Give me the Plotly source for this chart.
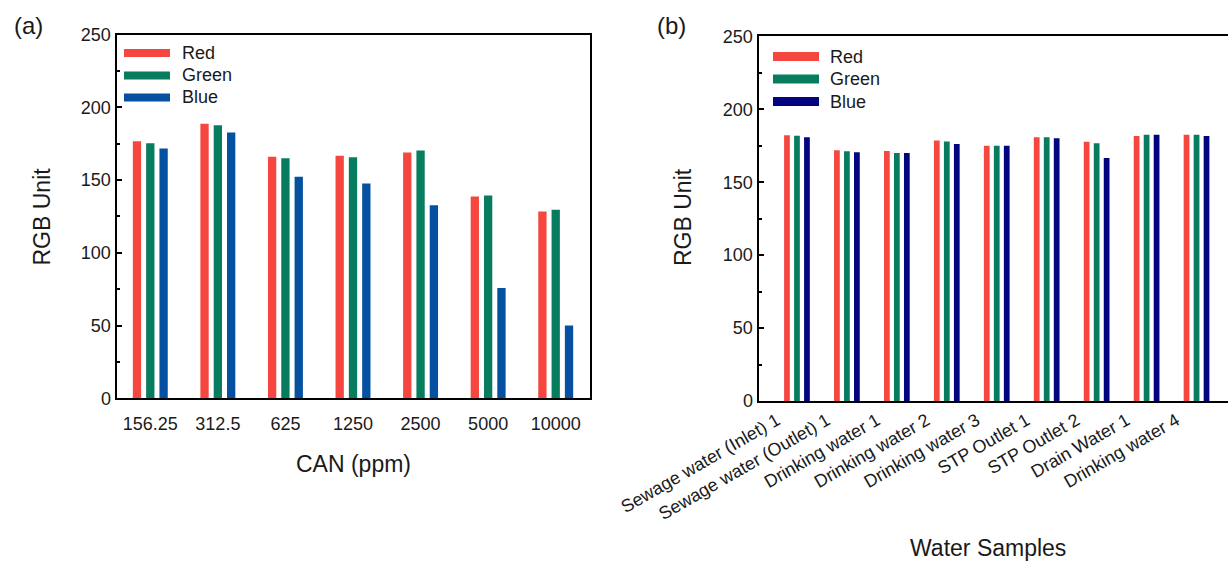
import plotly.graph_objects as go

# Panel (a): RGB response vs CAN concentration
can_levels = ["156.25", "312.5", "625", "1250", "2500", "5000", "10000"]
can_red = [176.7, 188.7, 166.0, 166.7, 168.9, 138.6, 128.3]
can_green = [175.3, 187.7, 165.0, 165.7, 170.3, 139.3, 129.5]
can_blue = [171.7, 182.7, 152.2, 147.6, 132.6, 75.8, 50.0]

# Panel (b): RGB response for real water samples
samples = ["Sewage water (Inlet) 1", "Sewage water (Outlet) 1", "Drinking water 1",
           "Drinking water 2", "Drinking water 3", "STP Outlet 1", "STP Outlet 2",
           "Drain Water 1", "Drinking water 4"]
sample_red = [182.2, 171.9, 171.4, 178.7, 175.0, 180.8, 177.8, 181.7, 182.6]
sample_green = [181.9, 171.2, 170.0, 178.0, 175.0, 180.8, 176.7, 182.6, 182.6]
sample_blue = [180.8, 170.5, 170.0, 176.2, 175.0, 180.1, 166.6, 182.6, 181.7]

series_names = ["Red", "Green", "Blue"]
colors_a = ["#F5473F", "#077C5E", "#0550A0"]
colors_b = ["#F5473F", "#077C5E", "#03047F"]

W, H = 1228, 562
FONT = "Liberation Sans, Arial, sans-serif"


def px(x):
    return x / W


def py(y):
    return 1 - y / H


fig = go.Figure()

# grouped bars with explicit slot spacing
slot_a, width_a = 0.197, 0.123
for k, (name, vals) in enumerate(zip(series_names, [can_red, can_green, can_blue])):
    fig.add_trace(go.Bar(
        x=can_levels, y=vals, name=name, xaxis="x", yaxis="y",
        width=width_a, offset=(k - 1) * slot_a - width_a / 2,
        marker=dict(color=colors_a[k], line=dict(width=0)), showlegend=False))

slot_b, width_b = 0.200, 0.115
for k, (name, vals) in enumerate(zip(series_names, [sample_red, sample_green, sample_blue])):
    fig.add_trace(go.Bar(
        x=samples, y=vals, name=name, xaxis="x2", yaxis="y2",
        width=width_b, offset=(k - 1) * slot_b - width_b / 2,
        marker=dict(color=colors_b[k], line=dict(width=0)), showlegend=False))

yax_common = dict(
    range=[0, 250], tickvals=[0, 50, 100, 150, 200, 250], ticks="inside",
    ticklen=5, tickwidth=1.5, tickcolor="black", showline=True, linewidth=2,
    linecolor="black", showgrid=False, zeroline=False, automargin=False,
    tickfont=dict(family=FONT, size=18, color="#1a1a1a"),
    minor=dict(tickvals=[25, 75, 125, 175, 225], ticks="inside", ticklen=3,
               tickwidth=1.5, tickcolor="black", showgrid=False),
)

fig.update_layout(
    width=W, height=H, margin=dict(l=0, r=0, t=0, b=0, autoexpand=False),
    paper_bgcolor="white", plot_bgcolor="white",
    barmode="group", font=dict(family=FONT, color="#1a1a1a"),
    xaxis=dict(domain=[px(116.5), px(589.5)], anchor="y", type="category",
               range=[-0.5, 6.5], showline=True, linewidth=2, linecolor="black",
               mirror=True, ticks="", showgrid=False, automargin=False,
               ticklabelstandoff=8,
               tickfont=dict(family=FONT, size=18, color="#1a1a1a")),
    yaxis=dict(domain=[py(398.3), py(34.5)], anchor="x", mirror=True, **yax_common),
    xaxis2=dict(domain=[px(758.5), 1.0], anchor="y2", type="category",
                range=[-0.77, 8.63], showline=True, linewidth=2, linecolor="black",
                mirror=True, ticks="", showgrid=False, tickangle=-30, automargin=False,
                ticklabelshift=-20,
                tickfont=dict(family=FONT, size=18, color="#1a1a1a")),
    yaxis2=dict(domain=[py(401), py(36.4)], anchor="x2", mirror=False, **yax_common),
)

# legends: wide colour swatches with labels
def add_legend(x0, y_rows, colors, text_x, sw_w, sw_h):
    for name, c, y in zip(series_names, colors, y_rows):
        fig.add_shape(type="rect", xref="paper", yref="paper",
                      x0=px(x0), x1=px(x0 + sw_w), y0=py(y + sw_h / 2), y1=py(y - sw_h / 2),
                      fillcolor=c, line=dict(width=0))
        fig.add_annotation(x=px(text_x), y=py(y), xref="paper", yref="paper",
                           text=name, showarrow=False, xanchor="left", yanchor="middle",
                           font=dict(family=FONT, size=18, color="#1a1a1a"))

add_legend(124, [53, 75.5, 97.5], colors_a, 180, 46, 8)
add_legend(773, [56.5, 79, 101.5], colors_b, 828, 46, 9)

# axis titles and panel labels
def label(text, x, y, size=23, angle=0):
    fig.add_annotation(x=px(x), y=py(y), xref="paper", yref="paper", text=text,
                       showarrow=False, xanchor="center", yanchor="middle",
                       textangle=angle, font=dict(family=FONT, size=size, color="#1a1a1a"))

label("RGB Unit", 41, 216.5, angle=-90)
label("RGB Unit", 683, 217, angle=-90)
label("CAN (ppm)", 353, 464)
label("Water Samples", 988, 548)
label("(a)", 28, 25, size=24)
label("(b)", 671, 25, size=24)

fig.write_html("out.html")
